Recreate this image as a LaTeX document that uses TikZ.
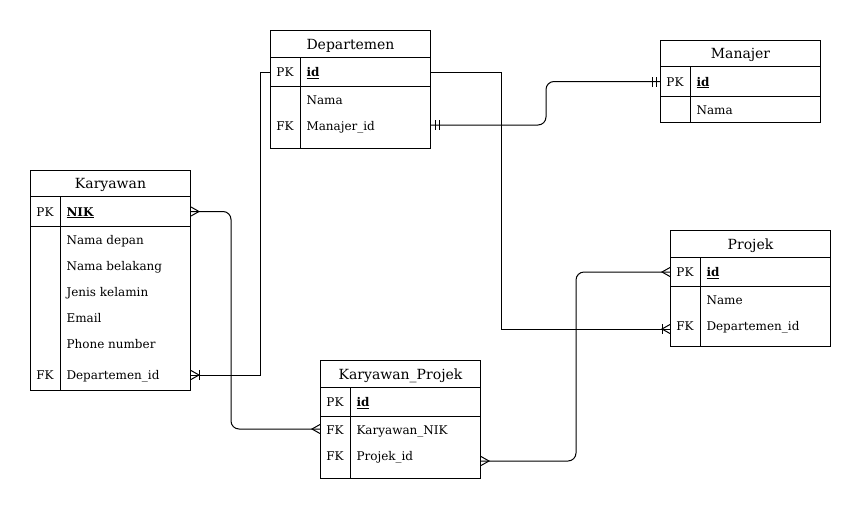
\documentclass[tikz,border=0pt]{standalone}
\usepackage{fontspec}
\setmainfont{DejaVu Serif}
\begin{document}
\begin{tikzpicture}[x=1pt,y=-1pt,line width=1pt,
  tbl/.style={draw,line width=1pt,minimum width=160pt,inner sep=0pt,anchor=north west,fill=white},
  ttl/.style={font=\fontsize{14}{16}\selectfont,text height=11pt,text depth=1pt},
  fld/.style={anchor=west,inner sep=0pt,text height=10pt,text depth=0pt,font=\fontsize{12}{14}\selectfont},
  key/.style={inner sep=0pt,text height=10pt,text depth=0pt,font=\fontsize{12}{14}\selectfont},
  link/.style={draw,line width=1pt},
  crowmany/.pic={\draw[line width=1pt] (0,-4.5) -- (8,0) -- (0,4.5);},
  crowone/.pic={\draw[line width=1pt] (0,-4.5) -- (8,0) -- (0,4.5); \draw[line width=1pt] (8,-5) -- (8,5);},
  dbar/.pic={\draw[line width=1pt] (4,-5) -- (4,5) (8,-5) -- (8,5);}
]
\useasboundingbox (0,0) rectangle (861,509);

% Departemen
\node[tbl,minimum height=27pt,ttl] (depT) at (270,30) {Departemen};
\node[tbl,minimum height=29pt] (depPK) at (270,57) {};
\node[tbl,minimum height=62pt] (depB) at (270,86) {};
\draw ([xshift=30pt]depPK.north west) -- ([xshift=30pt]depB.south west);
\node[key] (depK1) at (285,71.5) {PK};
\node[fld] (depId) at (306,71.5) {\underline{\textbf{id}}};
\node[fld] (depNama) at (306,99) {Nama};
\node[key] (depK2) at (285,125) {FK};
\node[fld] (depMan) at (306,125) {Manajer\_id};

% Manajer
\node[tbl,minimum height=26pt,ttl] (manT) at (660,40) {Manajer};
\node[tbl,minimum height=30pt] (manPK) at (660,66) {};
\node[tbl,minimum height=26pt] (manB) at (660,96) {};
\draw ([xshift=30pt]manPK.north west) -- ([xshift=30pt]manB.south west);
\node[key] (manK1) at (675,81) {PK};
\node[fld] (manId) at (696,81) {\underline{\textbf{id}}};
\node[fld] (manNama) at (696,109) {Nama};

% Karyawan
\node[tbl,minimum height=26pt,ttl] (karT) at (30,170) {Karyawan};
\node[tbl,minimum height=30pt] (karPK) at (30,196) {};
\node[tbl,minimum height=164pt] (karB) at (30,226) {};
\draw ([xshift=30pt]karPK.north west) -- ([xshift=30pt]karB.south west);
\node[key] (karK1) at (45,211) {PK};
\node[fld] (karNIK) at (66,211) {\underline{\textbf{NIK}}};
\node[fld] (karF1) at (66,239) {Nama depan};
\node[fld] (karF2) at (66,265) {Nama belakang};
\node[fld] (karF3) at (66,291) {Jenis kelamin};
\node[fld] (karF4) at (66,317) {Email};
\node[fld] (karF5) at (66,343) {Phone number};
\node[key] (karK2) at (45,374) {FK};
\node[fld] (karDep) at (66,374) {Departemen\_id};

% Karyawan_Projek
\node[tbl,minimum height=27pt,ttl] (kpT) at (320,360) {Karyawan\_Projek};
\node[tbl,minimum height=29pt] (kpPK) at (320,387) {};
\node[tbl,minimum height=62pt] (kpB) at (320,416) {};
\draw ([xshift=30pt]kpPK.north west) -- ([xshift=30pt]kpB.south west);
\node[key] (kpK1) at (335,401.5) {PK};
\node[fld] (kpId) at (356,401.5) {\underline{\textbf{id}}};
\node[key] (kpK2) at (335,429) {FK};
\node[fld] (kpNIK) at (356,429) {Karyawan\_NIK};
\node[key] (kpK3) at (335,455) {FK};
\node[fld] (kpPj) at (356,455) {Projek\_id};

% Projek
\node[tbl,minimum height=27pt,ttl] (pjT) at (670,230) {Projek};
\node[tbl,minimum height=29pt] (pjPK) at (670,257) {};
\node[tbl,minimum height=60pt] (pjB) at (670,286) {};
\draw ([xshift=30pt]pjPK.north west) -- ([xshift=30pt]pjB.south west);
\node[key] (pjK1) at (685,271.5) {PK};
\node[fld] (pjId) at (706,271.5) {\underline{\textbf{id}}};
\node[fld] (pjName) at (706,299) {Name};
\node[key] (pjK2) at (685,325) {FK};
\node[fld] (pjDep) at (706,325) {Departemen\_id};

% connection points
\coordinate (kDepPt) at ([yshift=-149pt]karB.north east);
\coordinate (pjDepPt) at ([yshift=-43pt]pjB.north west);
\coordinate (depManPt) at ([yshift=-39pt]depB.north east);
\coordinate (kpNIKPt) at ([yshift=-13pt]kpB.north west);
\coordinate (kpPjPt) at ([yshift=-45pt]kpB.north east);

% connectors
\draw[link] (depPK.west) -- ++(-10,0) |- (kDepPt);
\pic at (kDepPt) {crowone};

\draw[link] (depPK.east) -- ++(70,0) |- (pjDepPt);
\pic[rotate=180] at (pjDepPt) {crowone};

\draw[link,rounded corners=8pt] (depManPt) -- ++(115,0) |- (manPK.west);
\pic at (depManPt) {dbar};
\pic[rotate=180] at (manPK.west) {dbar};

\draw[link,rounded corners=8pt] (karPK.east) -- ++(40,0) |- (kpNIKPt);
\pic at (karPK.east) {crowmany};
\pic[rotate=180] at (kpNIKPt) {crowmany};

\draw[link,rounded corners=8pt] (kpPjPt) -- ++(95,0) |- (pjPK.west);
\pic at (kpPjPt) {crowmany};
\pic[rotate=180] at (pjPK.west) {crowmany};
\end{tikzpicture}
\end{document}
